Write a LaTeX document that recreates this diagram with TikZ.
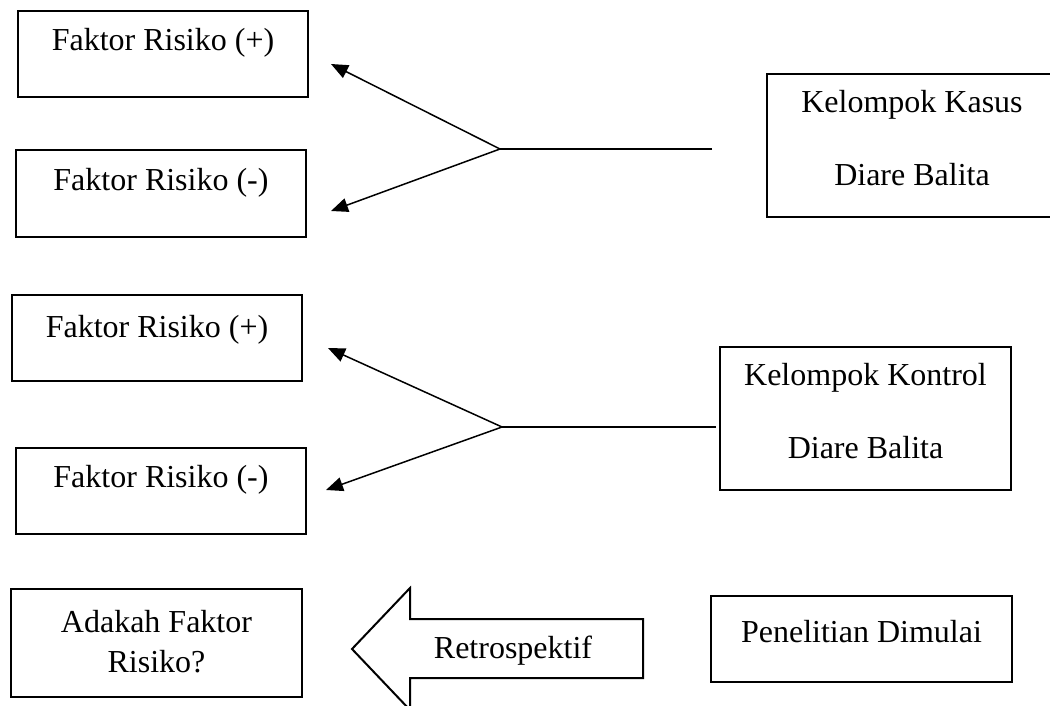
\documentclass[tikz,border=0pt]{standalone}
\usepackage{fontspec}
\setmainfont{Liberation Serif}
\usetikzlibrary{arrows.meta}
\begin{document}
\begin{tikzpicture}[x=1pt,y=-1pt,
  box/.style={draw=black,line width=2pt,rectangle,inner sep=0pt},
  lbl/.style={inner sep=0pt,font=\fontsize{32}{38}\selectfont},
  conn/.style={draw=black,line width=1.5pt},
  arr/.style={conn,-{Triangle[length=17pt,width=14pt]}},
  bigarrow/.style={draw=black,line width=2pt,line join=miter}]
\useasboundingbox (0,0) rectangle (1050,706);
\begin{scope}
\clip (0,0) rectangle (1050,706);
% boxes
\node[box,minimum width=290pt,minimum height=86pt] (b1) at (163,54) {};
\node[lbl] (t1) at (163,43) {Faktor Risiko (+)};
\node[box,minimum width=290pt,minimum height=87pt] (b2) at (161,193.5) {};
\node[lbl] (t2) at (161,183) {Faktor Risiko (-)};
\node[box,minimum width=290pt,minimum height=86pt] (b3) at (157,338) {};
\node[lbl] (t3) at (157,330) {Faktor Risiko (+)};
\node[box,minimum width=290pt,minimum height=86pt] (b4) at (161,491) {};
\node[lbl] (t4) at (161,480) {Faktor Risiko (-)};
\node[box,minimum width=290pt,minimum height=143pt] (kasus) at (912,145.5) {};
\node[lbl] (k1) at (912,105) {Kelompok Kasus};
\node[lbl] (k2) at (912,175) {Diare Balita};
\node[box,minimum width=291pt,minimum height=143pt] (kontrol) at (865.5,418.5) {};
\node[lbl] (c1) at (865.5,378) {Kelompok Kontrol};
\node[lbl] (c2) at (865.5,448) {Diare Balita};
\node[box,minimum width=291pt,minimum height=108pt] (ada) at (156.5,643) {};
\node[lbl] (a1) at (156.5,622) {Adakah Faktor};
\node[lbl] (a2) at (156.5,662) {Risiko?};
\node[box,minimum width=301pt,minimum height=86pt] (mulai) at (861.5,639) {};
\node[lbl] (m1) at (861.5,632) {Penelitian Dimulai};
% connectors group 1
\coordinate (s1) at (712,149);
\coordinate (j1) at (500,149);
\coordinate (p1) at (331,64);
\coordinate (n1) at (331,211);
\draw[conn] (s1) -- (j1);
\draw[arr] (j1) -- (p1);
\draw[arr] (j1) -- (n1);
% connectors group 2
\coordinate (s2) at (716,427);
\coordinate (j2) at (502,427);
\coordinate (p2) at (328,348);
\coordinate (n2) at (326,490);
\draw[conn] (s2) -- (j2);
\draw[arr] (j2) -- (p2);
\draw[arr] (j2) -- (n2);
% big arrow
\draw[bigarrow] (352,649) -- (410,588) -- (410,619) -- (643,619) -- (643,678) -- (410,678) -- (410,710) -- cycle;
\node[lbl] (retro) at (513,651) {Retrospektif};
\end{scope}
\end{tikzpicture}
\end{document}
